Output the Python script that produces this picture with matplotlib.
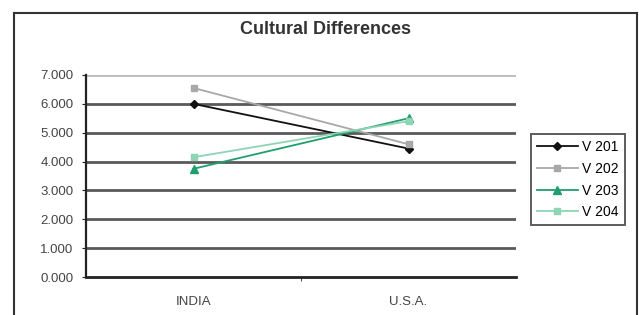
import matplotlib
matplotlib.use("Agg")
import matplotlib.pyplot as plt
from matplotlib.lines import Line2D

plt.rcParams['font.family'] = ['Liberation Sans', 'DejaVu Sans']

# data
categories = ['INDIA', 'U.S.A.']
series_names = ['V 201', 'V 202', 'V 203', 'V 204']
v201 = [6.0, 4.45]
v202 = [6.55, 4.6]
v203 = [3.75, 5.5]
v204 = [4.15, 5.4]
yticks = [0, 1, 2, 3, 4, 5, 6, 7]

fig = plt.figure(figsize=(6.39, 3.15), dpi=100)
fig.patch.set_facecolor('white')

# outer chart frame
fig.add_artist(Line2D([14/639, 14/639], [0, 1 - 13/315], color='#333333', lw=1.5))
fig.add_artist(Line2D([14/639, 637/639], [1 - 13/315, 1 - 13/315], color='#333333', lw=1.5))
fig.add_artist(Line2D([637/639, 637/639], [0, 1 - 13/315], color='#333333', lw=1.5))

ax = fig.add_axes([86/639, 38/315, 430/639, 202/315])

x = [0, 1]
styles = [
    (v201, '#111111', 'D', 4),
    (v202, '#a8a8a8', 's', 4),
    (v203, '#1f9e6e', '^', 5.5),
    (v204, '#8fd4b4', 's', 4),
]
for name, (vals, col, mk, ms) in zip(series_names, styles):
    ax.plot(x, vals, color=col, marker=mk, markersize=ms, lw=1.3,
            label=name, zorder=3)

ax.set_xlim(-0.5, 1.5)
ax.set_ylim(0, 7)
ax.set_yticks(yticks)
ax.set_yticklabels([f'{v:.3f}' for v in yticks])
for v in yticks[1:]:
    c = '#bbbbbb' if v == 7 else '#5a5a5a'
    ax.axhline(v, color=c, lw=2, zorder=1)

ax.set_xticks(x)
ax.set_xticklabels(categories)
ax.set_xticks([0.5], minor=True)
ax.tick_params(axis='x', which='major', length=0, pad=14, labelsize=9.5, colors='#444444')
ax.tick_params(axis='x', which='minor', length=3, direction='out', color='#222222')
ax.tick_params(axis='y', length=3, direction='out', labelsize=9.5, colors='#444444', pad=6)
ax.tick_params(axis='both', color='#222222')

for s in ['top', 'right']:
    ax.spines[s].set_visible(False)
ax.spines['left'].set_linewidth(1.6)
ax.spines['bottom'].set_linewidth(2)
ax.spines['left'].set_color('#222222')
ax.spines['bottom'].set_color('#222222')

fig.text(325/639, 1 - 30/315, 'Cultural Differences', ha='center', va='center',
         fontsize=13, fontweight='bold', color='#333333')

leg = fig.legend(loc='upper left', bbox_to_anchor=(531/639, 1 - 134/315),
                 fontsize=10, frameon=True, fancybox=False, handlelength=2.9,
                 borderpad=0.45, labelspacing=0.55, handletextpad=0.3,
                 borderaxespad=0)
leg.get_frame().set_edgecolor('#333333')
leg.get_frame().set_linewidth(1.4)

fig.savefig('out.png', dpi=100)
